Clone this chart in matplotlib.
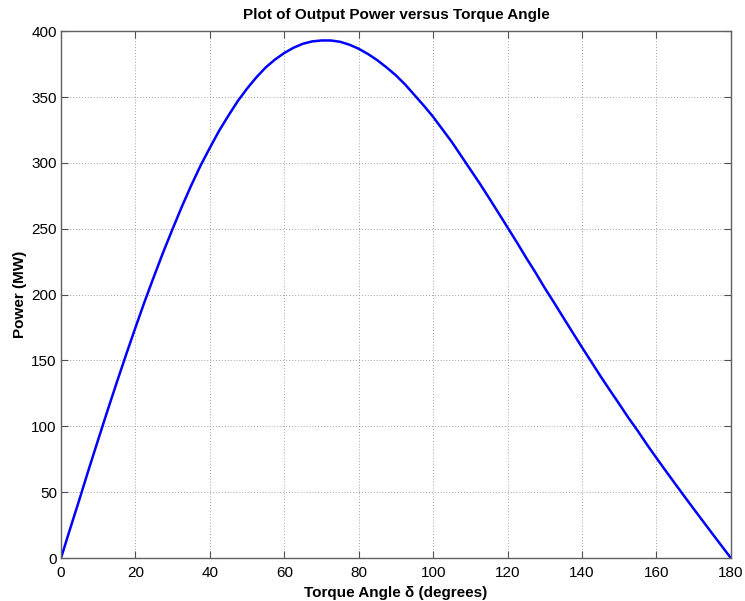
import matplotlib
matplotlib.use('Agg')
import matplotlib.pyplot as plt

# torque angle (degrees) and output power (MW)
delta_deg = [0, 2.5, 5, 7.5, 10, 12.5, 15, 17.5, 20, 22.5, 25, 27.5, 30, 32.5, 35, 37.5,
             40, 42.5, 45, 47.5, 50, 52.5, 55, 57.5, 60, 62.5, 65, 67.5, 70, 72.5, 75,
             77.5, 80, 82.5, 85, 87.5, 90, 92.5, 95, 97.5, 100, 102.5, 105, 107.5, 110,
             112.5, 115, 117.5, 120, 122.5, 125, 127.5, 130, 132.5, 135, 137.5, 140,
             142.5, 145, 147.5, 150, 152.5, 155, 157.5, 160, 162.5, 165, 167.5, 170,
             172.5, 175, 177.5, 180]
power_mw = [0, 22.7, 45, 67.8, 90, 112, 133.5, 154.5, 175, 195, 214, 232.5, 250, 267,
            283, 298, 311.5, 324.5, 336, 347, 356.5, 365, 372.5, 378.5, 383.5, 387.5,
            390.5, 392.3, 393, 393, 392, 389.8, 386.7, 382.7, 378, 372.5, 366.5, 359.5,
            351.5, 343.5, 335, 325.5, 316, 305.5, 295, 284.5, 273.5, 262.3, 251, 239.7,
            228, 216.8, 205, 193.9, 182.5, 171.2, 160, 149, 138, 127.4, 117, 106.4, 96.5,
            86, 76, 66.2, 56.5, 46.9, 37.4, 28, 18.6, 9.3, 0]

x_ticks = [0, 20, 40, 60, 80, 100, 120, 140, 160, 180]
y_ticks = [0, 50, 100, 150, 200, 250, 300, 350, 400]

plt.rcParams['font.family'] = ['Liberation Sans', 'DejaVu Sans']

fig = plt.figure(figsize=(7.45, 6.01), dpi=100)
ax = fig.add_axes([0.0819, 0.0715, 0.8991, 0.8765])

ax.plot(delta_deg, power_mw, color='#0000ff', linewidth=1.8)

ax.set_xlim(0, 180)
ax.set_ylim(0, 400)
ax.set_xticks(x_ticks)
ax.set_yticks(y_ticks)
ax.tick_params(direction='in', top=True, right=True, labelsize=11, length=5,
               width=0.8, colors='#505050', labelcolor='black', pad=3)
ax.tick_params(axis='x', pad=6)
ax.grid(True, linestyle=(0, (1, 2)), color='#a0a0a0', linewidth=0.7)
for s in ax.spines.values():
    s.set_color('#606060')
    s.set_linewidth(1)

ax.set_title('Plot of Output Power versus Torque Angle', fontsize=11, fontweight='bold', pad=9)
ax.set_xlabel('Torque Angle δ (degrees)', fontsize=11, fontweight='bold', labelpad=4)
ax.set_ylabel('Power (MW)', fontsize=11, fontweight='bold', labelpad=3)

plt.savefig('out.png', dpi=100)
